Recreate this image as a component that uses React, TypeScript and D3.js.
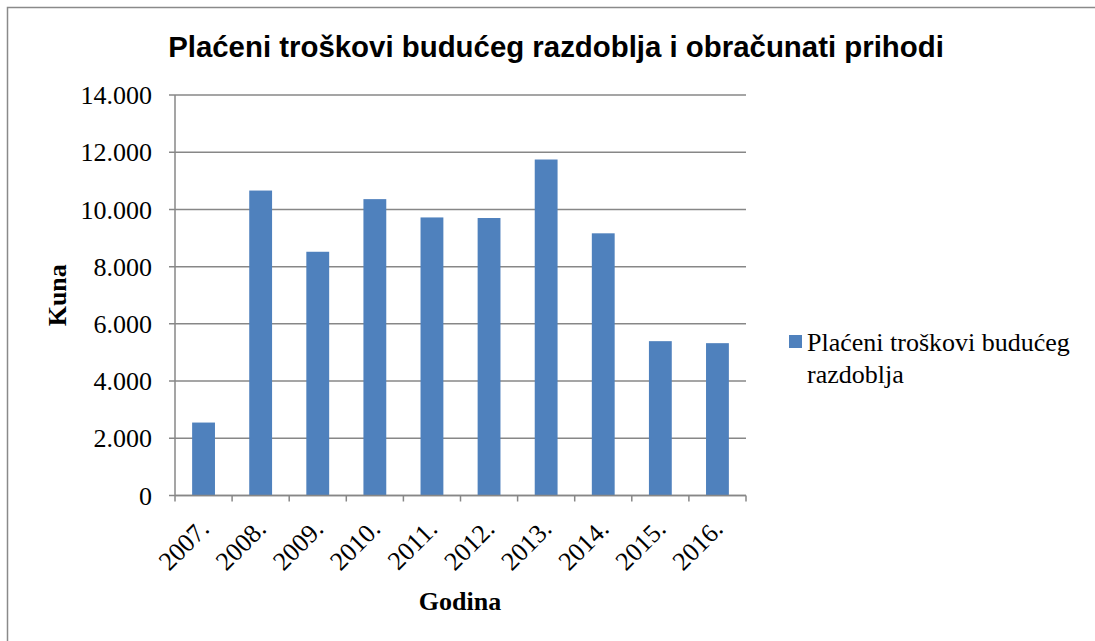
import React from "react";
import * as d3 from "d3";

const years = ["2007.", "2008.", "2009.", "2010.", "2011.", "2012.", "2013.", "2014.", "2015.", "2016."];
const values = [2550, 10660, 8520, 10360, 9720, 9700, 11745, 9165, 5395, 5325];
const yTicks = [0, 2000, 4000, 6000, 8000, 10000, 12000, 14000];
const title = "Plaćeni troškovi budućeg razdoblja i obračunati prihodi";
const seriesName = ["Plaćeni troškovi budućeg", "razdoblja"];
const xTitle = "Godina";
const yTitle = "Kuna";

const W = 1095;
const H = 641;
const plot = { left: 175, right: 746, top: 95, bottom: 495.5 };
const barColor = "#4F81BD";
const lineColor = "#878787";
const serif = "'Liberation Serif', 'Times New Roman', serif";
const sans = "'Liberation Sans', Arial, sans-serif";

const fmt = (v: number) => (v === 0 ? "0" : d3.format(",")(v).replace(/,/g, "."));

export default function App() {
  const x = d3.scaleBand<string>().domain(years).range([plot.left, plot.right]).paddingInner(0.6).paddingOuter(0.3);
  const y = d3.scaleLinear().domain([0, 14000]).range([plot.bottom, plot.top]);
  const step = x.step();
  const boundaries = d3.range(years.length + 1).map((i) => plot.left + i * step);

  return (
    <div style={{ position: "absolute", left: 0, top: 0 }}>
      <svg width={W} height={H} style={{ display: "block", background: "#fff" }}>
        <rect x={7.5} y={7.5} width={1200} height={800} fill="none" stroke="#8a8a8a" strokeWidth={1.5} />
        <text x={556} y={57} textAnchor="middle" fontFamily={sans} fontWeight="bold" fontSize={29.4} fill="#000">
          {title}
        </text>
        {yTicks.map((t) => (
          <g key={t}>
            <line x1={plot.left - 6} x2={plot.right} y1={y(t)} y2={y(t)} stroke={lineColor} strokeWidth={1.5} />
            <text x={152} y={y(t)} dy="0.35em" textAnchor="end" fontFamily={serif} fontSize={26} fill="#000">
              {fmt(t)}
            </text>
          </g>
        ))}
        {years.map((yr, i) => (
          <rect key={yr} x={x(yr)} y={y(values[i])} width={x.bandwidth()} height={y(0) - y(values[i])} fill={barColor} />
        ))}
        <line x1={plot.left} x2={plot.left} y1={plot.top} y2={plot.bottom} stroke={lineColor} strokeWidth={1.5} />
        <line x1={plot.left} x2={plot.right} y1={plot.bottom} y2={plot.bottom} stroke={lineColor} strokeWidth={1.5} />
        {boundaries.map((bx, i) => (
          <line key={i} x1={bx} x2={bx} y1={plot.bottom} y2={plot.bottom + 6} stroke={lineColor} strokeWidth={1.5} />
        ))}
        {years.map((yr) => {
          const cx = (x(yr) as number) + x.bandwidth() / 2;
          return (
            <text
              key={yr}
              transform={`translate(${cx + 7},${plot.bottom + 35}) rotate(-45)`}
              textAnchor="end"
              fontFamily={serif}
              fontSize={26}
              fill="#000"
            >
              {yr}
            </text>
          );
        })}
        <text x={460} y={610} textAnchor="middle" fontFamily={serif} fontWeight="bold" fontSize={26} fill="#000">
          {xTitle}
        </text>
        <text transform={`translate(66,${(plot.top + plot.bottom) / 2}) rotate(-90)`} textAnchor="middle" fontFamily={serif} fontWeight="bold" fontSize={26} fill="#000">
          {yTitle}
        </text>
        <rect x={789} y={335} width={13} height={13} fill={barColor} />
        <text x={807} y={351} fontFamily={serif} fontSize={26} fill="#000">
          {seriesName[0]}
        </text>
        <text x={807} y={383} fontFamily={serif} fontSize={26} fill="#000">
          {seriesName[1]}
        </text>
      </svg>
    </div>
  );
}
